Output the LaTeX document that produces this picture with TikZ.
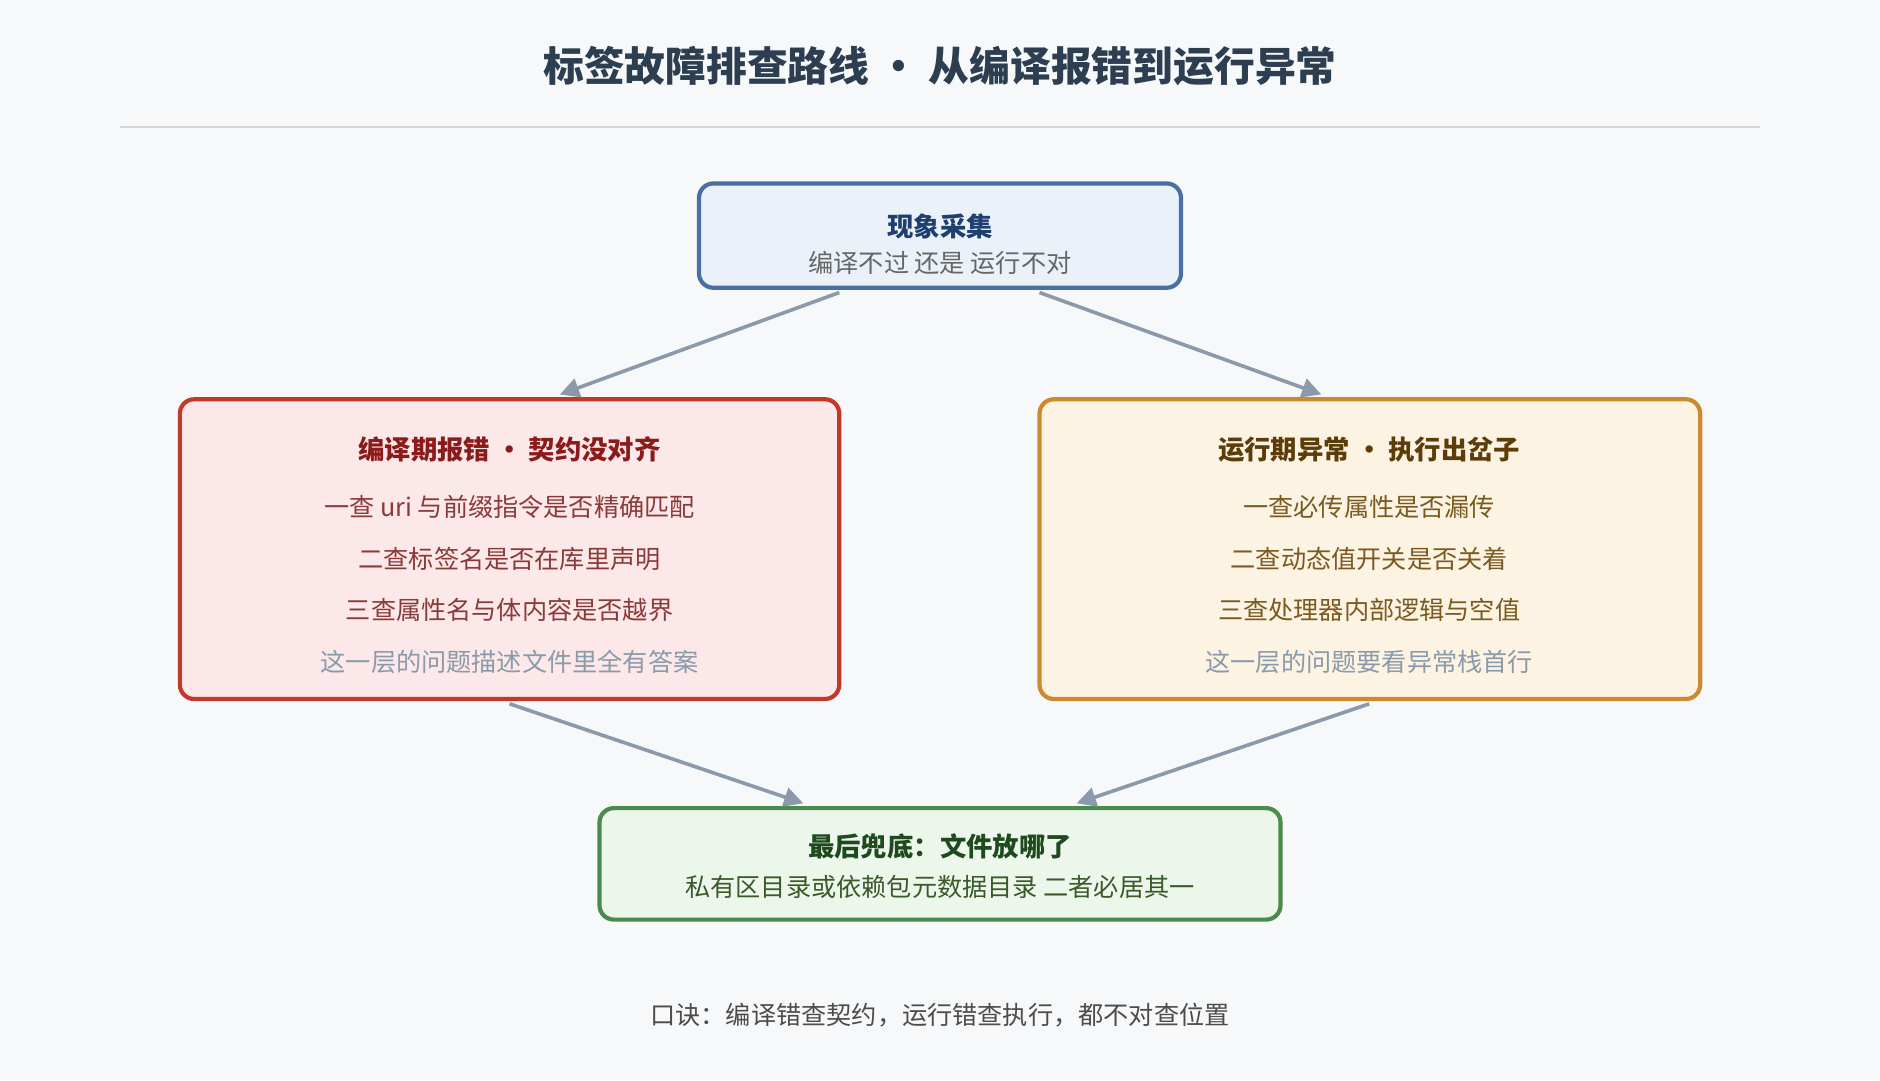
\documentclass[tikz,border=0pt]{standalone}
\usepackage{fontspec}
\setmainfont{Noto Sans CJK SC}
\usetikzlibrary{arrows.meta}
\definecolor{bg}{HTML}{F6F8FA}
\definecolor{arr}{HTML}{8A9AAA}
\definecolor{ttl}{HTML}{2C3E50}
\definecolor{bbd}{HTML}{4A6FA5}\definecolor{bfl}{HTML}{EAF1F9}\definecolor{btx}{HTML}{1F3F6E}
\definecolor{rbd}{HTML}{C0392B}\definecolor{rfl}{HTML}{FCE8E8}\definecolor{rtt}{HTML}{8B1A1A}\definecolor{rtx}{HTML}{8B3A3A}
\definecolor{obd}{HTML}{CC8A30}\definecolor{ofl}{HTML}{FDF3E2}\definecolor{ott}{HTML}{5C3D0A}\definecolor{otx}{HTML}{7A5A20}
\definecolor{gbd}{HTML}{4A8A4A}\definecolor{gfl}{HTML}{EDF6EB}\definecolor{gtt}{HTML}{1E4A1E}\definecolor{gtx}{HTML}{3A5A2A}
\begin{document}
\begin{tikzpicture}[x=1pt,y=-1pt,
 box/.style={draw,line width=3.5pt,rounded corners=12pt},
 conn/.style={draw=arr,line width=3pt,-{Triangle[length=16pt,width=16pt]}},
 t/.style={font=\fontsize{22}{22}\selectfont\bfseries},
 b/.style={font=\fontsize{21}{21}\selectfont}]
\fill[bg] (0,0) rectangle (1568,901);
\useasboundingbox (0,0) rectangle (1568,901);
\node[font=\fontsize{34}{34}\selectfont\bfseries,text=ttl] (title) at (784,55) {标签故障排查路线 • 从编译报错到运行异常};
\draw[color=black!16,line width=1pt] (100,106) -- (1468,106);
% top
\draw[box,draw=bbd,fill=bfl] (583,153) rectangle (985,240);
\node[t,text=btx] (n0) at (784,189) {现象采集};
\node[b,text=gray!80!black] (n0b) at (784,219) {编译不过 还是 运行不对};
% left
\draw[box,draw=rbd,fill=rfl] (150,333) rectangle (700,583);
\node[t,text=rtt] (l0) at (425,375) {编译期报错 • 契约没对齐};
\node[b,text=rtx] (l1) at (425,423) {一查 uri 与前缀指令是否精确匹配};
\node[b,text=rtx] (l2) at (425,466) {二查标签名是否在库里声明};
\node[b,text=rtx] (l3) at (425,509) {三查属性名与体内容是否越界};
\node[b,text=arr] (l4) at (425,552) {这一层的问题描述文件里全有答案};
% right
\draw[box,draw=obd,fill=ofl] (867,333) rectangle (1418,583);
\node[t,text=ott] (r0) at (1142,375) {运行期异常 • 执行出岔子};
\node[b,text=otx] (r1) at (1142,423) {一查必传属性是否漏传};
\node[b,text=otx] (r2) at (1142,466) {二查动态值开关是否关着};
\node[b,text=otx] (r3) at (1142,509) {三查处理器内部逻辑与空值};
\node[b,text=arr] (r4) at (1142,552) {这一层的问题要看异常栈首行};
% bottom
\draw[box,draw=gbd,fill=gfl] (500,674) rectangle (1068,767);
\node[t,text=gtt] (f0) at (784,706) {最后兜底：文件放哪了};
\node[b,text=gtx] (f1) at (784,740) {私有区目录或依赖包元数据目录 二者必居其一};
\node[b,text=black!70] (foot) at (784,847) {口诀：编译错查契约，运行错查执行，都不对查位置};
% connectors
\coordinate (a1) at (700,244); \coordinate (a2) at (467,329);
\coordinate (b1) at (867,244); \coordinate (b2) at (1102,329);
\coordinate (c1) at (425,587); \coordinate (c2) at (670,670);
\coordinate (d1) at (1142,587); \coordinate (d2) at (898,670);
\draw[conn] (a1) -- (a2);
\draw[conn] (b1) -- (b2);
\draw[conn] (c1) -- (c2);
\draw[conn] (d1) -- (d2);
\end{tikzpicture}
\end{document}
